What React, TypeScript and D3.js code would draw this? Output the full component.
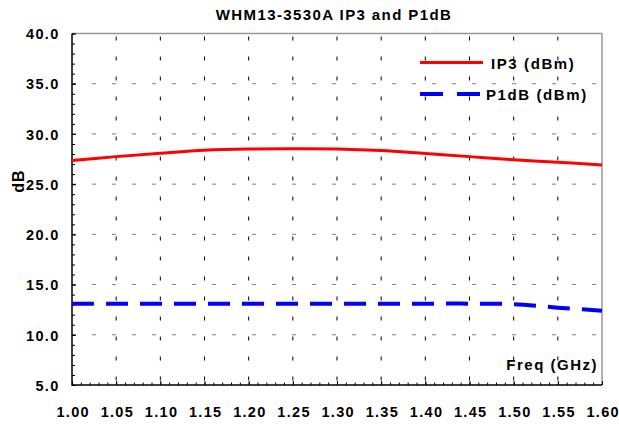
import { useEffect, useRef } from "react";
import * as d3 from "d3";

const freqs = [1.0, 1.05, 1.1, 1.15, 1.2, 1.25, 1.3, 1.35, 1.4, 1.45, 1.5, 1.55, 1.6];
const ip3 = [27.35, 27.74, 28.08, 28.38, 28.5, 28.52, 28.5, 28.34, 28.04, 27.74, 27.42, 27.18, 26.9];
const p1db = [13.1, 13.1, 13.1, 13.1, 13.1, 13.1, 13.1, 13.1, 13.1, 13.1, 13.05, 12.7, 12.4];
const xTicks = [1.0, 1.05, 1.1, 1.15, 1.2, 1.25, 1.3, 1.35, 1.4, 1.45, 1.5, 1.55, 1.6];
const yTicks = [5, 10, 15, 20, 25, 30, 35, 40];

const FONT = "'Liberation Sans', Arial, sans-serif";

export default function App() {
  const svgRef = useRef<SVGSVGElement>(null);

  useEffect(() => {
    if (!svgRef.current) return;
    const svg = d3.select(svgRef.current);
    svg.selectAll("*").remove();

    const left = 72;
    const right = 602;
    const top = 33.5;
    const bottom = 385;

    const x = d3.scaleLinear().domain([1.0, 1.6]).range([left, right]);
    const y = d3.scaleLinear().domain([5, 40]).range([bottom, top]);

    // Title
    svg
      .append("text")
      .attr("x", 334)
      .attr("y", 20)
      .attr("text-anchor", "middle")
      .attr("font-family", FONT)
      .attr("font-weight", "bold")
      .attr("font-size", "15px")
      .attr("letter-spacing", "1.4px")
      .attr("fill", "#000")
      .text("WHM13-3530A IP3 and P1dB");

    // Horizontal grid (gray dashes)
    svg
      .append("g")
      .selectAll("line")
      .data(yTicks.filter((t) => t > 5 && t < 40))
      .enter()
      .append("line")
      .attr("x1", left)
      .attr("x2", right)
      .attr("y1", (d) => y(d))
      .attr("y2", (d) => y(d))
      .attr("stroke", "#808080")
      .attr("stroke-width", 1)
      .attr("stroke-dasharray", "4,16");

    // Vertical grid (black dashes)
    svg
      .append("g")
      .selectAll("line")
      .data(xTicks.filter((t) => t > 1.0 && t < 1.6))
      .enter()
      .append("line")
      .attr("x1", (d) => x(d))
      .attr("x2", (d) => x(d))
      .attr("y1", top)
      .attr("y2", bottom)
      .attr("stroke", "#000")
      .attr("stroke-width", 1)
      .attr("stroke-dasharray", "4,16")
      .attr("stroke-dashoffset", -3);

    // Top and right border
    svg
      .append("path")
      .attr("d", `M${left},${top}H${right}V${bottom}`)
      .attr("fill", "none")
      .attr("stroke", "#999")
      .attr("stroke-width", 1.5);

    // Axes (ticks pointing inward)
    const xAxis = svg
      .append("g")
      .attr("transform", `translate(0,${bottom})`)
      .call(
        d3
          .axisBottom(x)
          .tickValues(d3.range(100, 161).map((v) => v / 100))
          .tickSize(-2.5)
          .tickFormat(() => "")
      );
    xAxis.selectAll(".domain").remove();
    xAxis.selectAll(".tick line").attr("stroke", "#000");

    svg
      .append("g")
      .attr("transform", `translate(0,${bottom})`)
      .call(
        d3
          .axisBottom(x)
          .tickValues(xTicks)
          .tickSize(-4)
          .tickPadding(0)
          .tickFormat((d) => d3.format(".2f")(d as number))
      )
      .call((g) => g.select(".domain").remove())
      .call((g) => g.selectAll(".tick line").attr("stroke", "#000"))
      .call((g) =>
        g
          .selectAll(".tick text")
          .attr("y", 32)
          .attr("dy", 0)
          .attr("dx", 0.7)
          .attr("font-family", FONT)
          .attr("font-weight", "bold")
          .attr("font-size", "14.5px")
          .attr("letter-spacing", "1.3px")
          .attr("fill", "#000")
      );

    const yMinor = svg
      .append("g")
      .attr("transform", `translate(${left},0)`)
      .call(
        d3
          .axisLeft(y)
          .tickValues(d3.range(5, 41))
          .tickSize(-3)
          .tickFormat(() => "")
      );
    yMinor.selectAll(".domain").remove();
    yMinor.selectAll(".tick line").attr("stroke", "#000");

    svg
      .append("g")
      .attr("transform", `translate(${left},0)`)
      .call(
        d3
          .axisLeft(y)
          .tickValues(yTicks)
          .tickSize(-4)
          .tickFormat((d) => d3.format(".1f")(d as number))
      )
      .call((g) => g.select(".domain").remove())
      .call((g) => g.selectAll(".tick line").attr("stroke", "#000"))
      .call((g) =>
        g
          .selectAll(".tick text")
          .attr("x", -12.5)
          .attr("dy", "0.36em")
          .attr("font-family", FONT)
          .attr("font-weight", "bold")
          .attr("font-size", "14.5px")
          .attr("letter-spacing", "1.3px")
          .attr("fill", "#000")
      );

    // Axis lines
    svg
      .append("path")
      .attr("d", `M${left},${top}V${bottom}H${right}`)
      .attr("fill", "none")
      .attr("stroke", "#000")
      .attr("stroke-width", 1.5);

    // Axis titles
    svg
      .append("text")
      .attr("transform", `translate(24,181) rotate(-90)`)
      .attr("text-anchor", "middle")
      .attr("font-family", FONT)
      .attr("font-weight", "bold")
      .attr("font-size", "16px")
      .attr("letter-spacing", "1px")
      .attr("fill", "#000")
      .text("dB");

    svg
      .append("text")
      .attr("x", 598)
      .attr("y", 370)
      .attr("text-anchor", "end")
      .attr("font-family", FONT)
      .attr("font-weight", "bold")
      .attr("font-size", "15px")
      .attr("letter-spacing", "1.5px")
      .attr("fill", "#000")
      .text("Freq (GHz)");

    const line = d3
      .line<number>()
      .x((_, i) => x(freqs[i]))
      .y((d) => y(d))
      .curve(d3.curveCatmullRom.alpha(0.5));

    svg
      .append("path")
      .datum(ip3)
      .attr("fill", "none")
      .attr("stroke", "#ff0000")
      .attr("stroke-width", 3)
      .attr("d", line);

    svg
      .append("path")
      .datum(p1db)
      .attr("fill", "none")
      .attr("stroke", "#0000ff")
      .attr("stroke-width", 4)
      .attr("stroke-dasharray", "22,12")
      .attr("d", line);

    // Legend
    const legend = [
      { label: "IP3 (dBm)", color: "#ff0000", dash: "none", width: 3, y: 62.5, tx: 491 },
      { label: "P1dB (dBm)", color: "#0000ff", dash: "23,14", width: 4, y: 94, tx: 486 },
    ];
    legend.forEach((item) => {
      svg
        .append("line")
        .attr("x1", 420)
        .attr("x2", 483)
        .attr("y1", item.y)
        .attr("y2", item.y)
        .attr("stroke", item.color)
        .attr("stroke-width", item.width)
        .attr("stroke-dasharray", item.dash);
      svg
        .append("text")
        .attr("x", item.tx)
        .attr("y", item.y + 6)
        .attr("font-family", FONT)
        .attr("font-weight", "bold")
        .attr("font-size", "15px")
        .attr("letter-spacing", "1.6px")
        .attr("fill", "#000")
        .text(item.label);
    });
  }, []);

  return (
    <div style={{ position: "absolute", left: 0, top: 0, background: "#fff" }}>
      <svg ref={svgRef} width={619} height={424} style={{ display: "block" }} />
    </div>
  );
}
